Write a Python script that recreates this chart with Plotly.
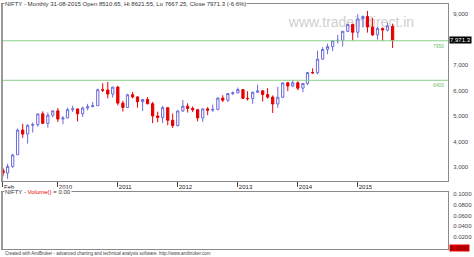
import pandas as pd
import plotly.graph_objects as go

# ---- data (NIFTY monthly, Feb 2009 .. Aug 2015) ----
months = pd.date_range("2009-02-01", "2015-08-01", freq="MS")
opens = [2873, 2764, 3023, 3478, 4450, 4292, 4637, 4662, 5086, 4711, 5033,
         5201, 4882, 4923, 5249, 5278, 5087, 5312, 5367, 5403, 6030, 6017, 5863,
         6134, 5505, 5333, 5835, 5749, 5561, 5648, 5482, 5001, 4943, 5327, 4832,
         4624, 5199, 5385, 5296, 5248, 4924, 5279, 5229, 5259, 5703, 5620, 5880,
         5905, 6035, 5693, 5682, 5930, 5986, 5842, 5742, 5471, 5735, 6299, 6176,
         6304, 6090, 6277, 6704, 6696, 7230, 7611, 7721, 7954, 7965, 8322, 8588,
         8283, 8808, 8902, 8491, 8181, 8434, 8368, 8510.65]
highs = [2968, 3123, 3517, 4509, 4693, 4669, 4744, 5087, 5182, 5138, 5221,
         5311, 4992, 5329, 5400, 5278, 5366, 5477, 5549, 6073, 6284, 6338, 6147,
         6181, 5600, 5872, 5944, 5775, 5658, 5740, 5551, 5169, 5399, 5327, 5099,
         5217, 5630, 5499, 5378, 5279, 5286, 5349, 5448, 5735, 5815, 5885, 5965,
         6112, 6052, 5971, 5962, 6229, 6011, 6093, 5808, 6142, 6309, 6342, 6415,
         6358, 6282, 6730, 6869, 7563, 7700, 7841, 7968, 8180, 8330, 8617, 8626,
         8996, 8941, 9119, 8845, 8490, 8467, 8654, 8621.55]
lows = [2631, 2539, 2965, 3478, 4143, 3918, 4353, 4576, 4687, 4538, 4943,
        4766, 4676, 4923, 5160, 4786, 4961, 5225, 5349, 5403, 5937, 5690, 5721,
        5416, 5177, 5324, 5693, 5328, 5195, 5453, 4720, 4758, 4728, 4640, 4531,
        4588, 5159, 5135, 5154, 4789, 4770, 5032, 5164, 5215, 5548, 5548, 5823,
        5890, 5671, 5604, 5477, 5910, 5566, 5676, 5118, 5318, 5700, 5972, 6130,
        6009, 5933, 6213, 6650, 6638, 7211, 7422, 7540, 7842, 7723, 8290, 7961,
        8066, 8470, 8269, 8144, 7997, 7940, 8316, 7667.25]
closes = [2763, 3021, 3473, 4449, 4291, 4636, 4662, 5084, 4712, 5033, 5201,
          4882, 4922, 5249, 5278, 5087, 5312, 5367, 5402, 6030, 6017, 5862, 6134,
          5505, 5333, 5833, 5749, 5560, 5647, 5482, 5001, 4943, 5327, 4832, 4624,
          5199, 5385, 5296, 5248, 4924, 5279, 5229, 5259, 5703, 5620, 5880, 5905,
          6035, 5693, 5682, 5930, 5986, 5842, 5742, 5471, 5735, 6299, 6176, 6304,
          6090, 6277, 6704, 6696, 7230, 7611, 7721, 7954, 7965, 8322, 8588, 8283,
          8808, 8902, 8491, 8181, 8434, 8368, 8532, 7971.3]

level_lines = [7950, 6400]
level_labels = ["7950", "6400"]
x_tick_dates = ["2009-02-01", "2010-01-01", "2011-01-01", "2012-01-01",
                "2013-01-01", "2014-01-01", "2015-01-01"]
x_tick_text = ["Feb", "2010", "2011", "2012", "2013", "2014", "2015"]
y_tick_vals = [3000, 4000, 5000, 6000, 7000, 9000]
y_tick_text = ["3,000", "4,000", "5,000", "6,000", "7,000", "9,000"]
vol_tick_vals = [0.02, 0.04, 0.06, 0.08, 0.10]
last_close = closes[-1]

title_text = ("NIFTY - Monthly 31-08-2015 Open 8510.65, Hi 8621.55, "
              "Lo 7667.25, Close 7971.3 (-6.6%)")
footer_text = ("Created with AmiBroker - advanced charting and technical "
               "analysis software. http://www.amibroker.com")

FONT = "Liberation Sans"
UP = "#6b6bdc"
DOWN = "#e80000"
GREEN = "#8ccf8c"
BORDER = "#8a8a8a"

# x range: ~6.09 days per pixel, plot 446 px wide
start = pd.Timestamp("2009-02-01") - pd.Timedelta(days=6)
end = start + pd.Timedelta(days=446 * 6.088)

fig = go.Figure()
fig.add_trace(go.Candlestick(
    x=months, open=opens, high=highs, low=lows, close=closes,
    increasing=dict(line=dict(color=UP, width=1), fillcolor="white"),
    decreasing=dict(line=dict(color=DOWN, width=1), fillcolor=DOWN),
    whiskerwidth=0, showlegend=False, hoverinfo="skip",
    xaxis="x", yaxis="y"))
# empty volume panel
fig.add_trace(go.Scatter(x=[months[0]], y=[None], mode="lines",
                         showlegend=False, xaxis="x2", yaxis="y2"))

main_bottom = (249 - 181) / 245
vol_top = (249 - 192) / 245

fig.update_layout(
    width=474, height=257,
    margin=dict(l=2, r=26, t=4, b=8),
    paper_bgcolor="white", plot_bgcolor="white",
    font=dict(family=FONT, size=6, color="#333333"),
    showlegend=False,
    xaxis=dict(type="date", range=[start, end], domain=[0, 1],
               anchor="y", rangeslider=dict(visible=False),
               tickvals=x_tick_dates, ticktext=x_tick_text,
               ticks="outside", ticklen=5, tickcolor="#444444",
               ticklabelposition="outside right",
               tickfont=dict(size=6, color="#222222"),
               showgrid=False, zeroline=False,
               showline=True, mirror=True, linecolor=BORDER, linewidth=1),
    yaxis=dict(domain=[main_bottom, 1], range=[2451, 9392], side="right",
               tickvals=y_tick_vals, ticktext=y_tick_text,
               ticks="", ticklabelstandoff=3,
               tickfont=dict(size=6, color="#444444"),
               showgrid=False, zeroline=False,
               showline=True, mirror=True, linecolor=BORDER, linewidth=1),
    xaxis2=dict(type="date", range=[start, end], domain=[0, 1],
                anchor="y2", showticklabels=False, ticks="",
                showgrid=False, zeroline=False,
                showline=True, mirror=True, linecolor=BORDER, linewidth=1),
    yaxis2=dict(domain=[0, vol_top], range=[-0.002, 0.1036], side="right",
                tickvals=vol_tick_vals, tickformat=".4f",
                ticks="", ticklabelstandoff=3,
                tickfont=dict(size=6, color="#444444"),
                showgrid=False, zeroline=False,
                showline=True, mirror=True, linecolor=BORDER, linewidth=1),
)

shapes = []
for lv in level_lines:
    shapes.append(dict(type="line", xref="paper", x0=0, x1=1, yref="y",
                       y0=lv, y1=lv, line=dict(color=GREEN, width=1)))
# watermark, behind candles
shapes.append(dict(type="rect", xref="paper", yref="paper",
                   x0=0.63, x1=0.937, y0=0.902, y1=0.963, layer="below",
                   line=dict(width=0), fillcolor="rgba(0,0,0,0)",
                   label=dict(text="www.tradeindirect.in",
                              font=dict(size=14, color="#cfcfcf", family=FONT),
                              textposition="middle center")))
# thicker left edges of the panels
shapes.append(dict(type="line", xref="paper", yref="paper", x0=0, x1=0,
                   y0=main_bottom, y1=1, line=dict(color="#999999", width=2)))
shapes.append(dict(type="line", xref="paper", yref="paper", x0=0, x1=0,
                   y0=0, y1=vol_top, line=dict(color="#999999", width=2)))
fig.update_layout(shapes=shapes)

ann = []
ann.append(dict(xref="paper", yref="paper", x=0, y=1, xshift=2,
                xanchor="left", yanchor="middle", showarrow=False,
                text=title_text, bgcolor="white", borderpad=0,
                font=dict(size=6, color="#333333")))
ann.append(dict(xref="paper", yref="paper", x=0, y=vol_top, xshift=2,
                xanchor="left", yanchor="middle", showarrow=False,
                text="NIFTY - <span style='color:#e80000'>Volume()</span> = 0.00",
                bgcolor="white", borderpad=0,
                font=dict(size=6, color="#333333")))
ann.append(dict(xref="paper", yref="paper", x=0, y=-0.018, xshift=1,
                xanchor="left", yanchor="middle", showarrow=False,
                text=footer_text, font=dict(size=4.5, color="#444444")))
for lv, lb in zip(level_lines, level_labels):
    ann.append(dict(xref="paper", yref="y", x=1, y=lv, xshift=-2,
                    xanchor="right", yanchor="top", showarrow=False,
                    text=lb, font=dict(size=5, color="#6fbf6f")))
ann.append(dict(xref="paper", yref="y", x=1, y=last_close, xshift=1,
                xanchor="left", yanchor="middle", showarrow=False,
                text=f"{last_close:,.1f}", bgcolor="black", borderpad=0,
                font=dict(size=6, color="white")))
ann.append(dict(xref="paper", yref="y2", x=1, y=0, xshift=1,
                xanchor="left", yanchor="middle", showarrow=False,
                text="0.0000", bgcolor="#e00000", borderpad=0,
                font=dict(size=6, color="#550000")))
fig.update_layout(annotations=ann)

fig.write_html("out.html")
